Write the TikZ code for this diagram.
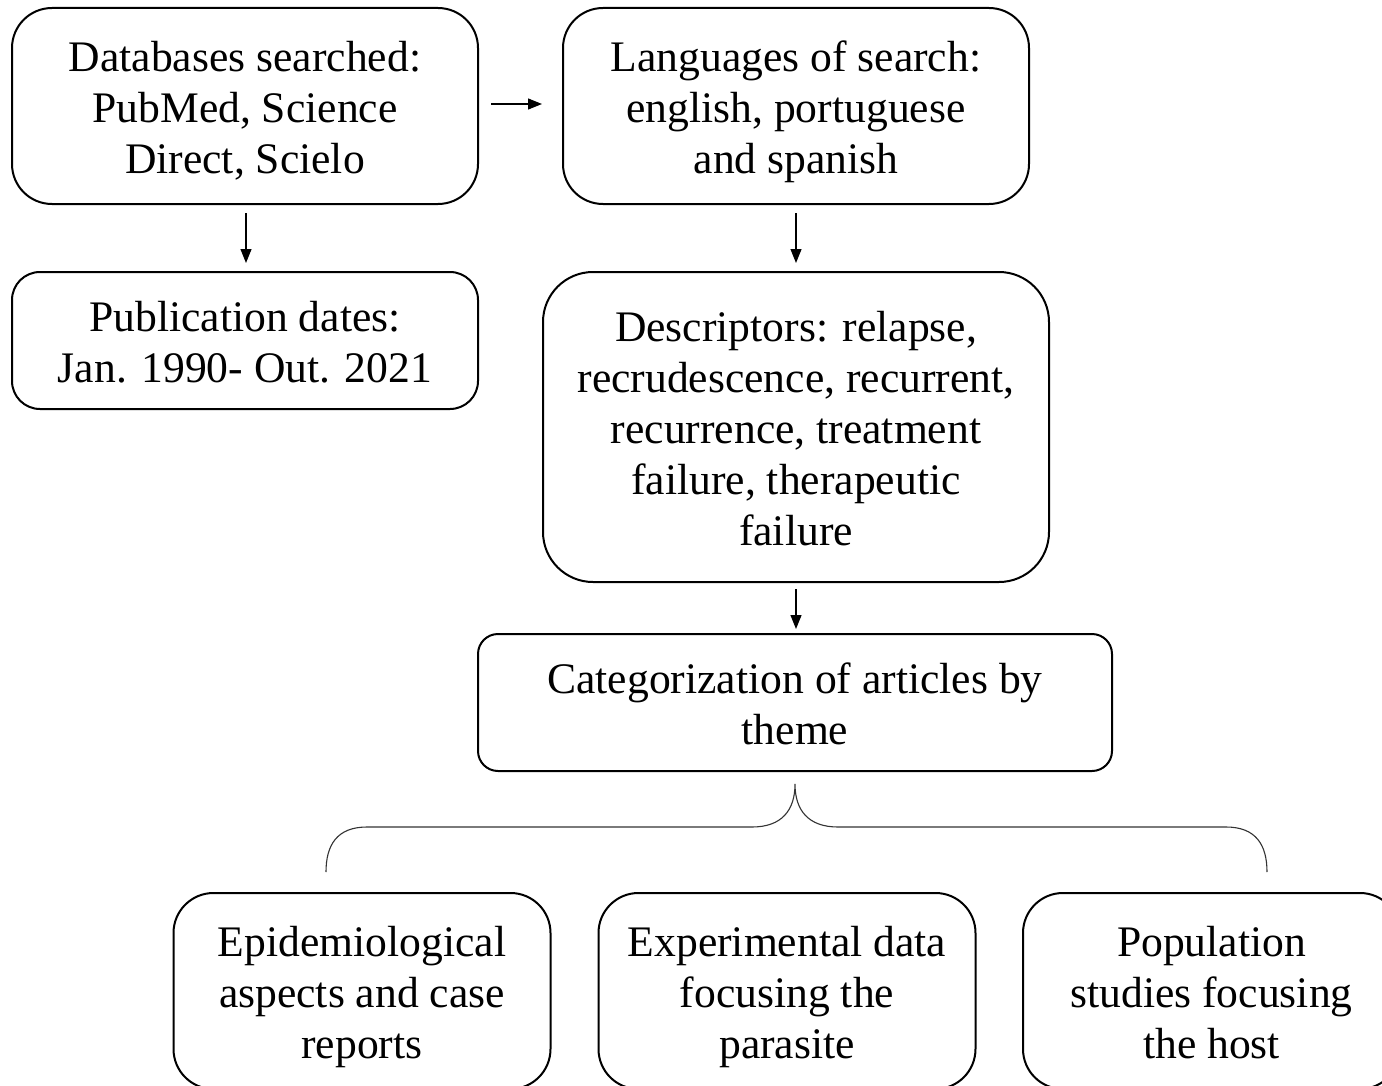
\documentclass[tikz,border=0pt]{standalone}
\usepackage{fontspec}
\setmainfont{Liberation Serif}
\usetikzlibrary{arrows.meta}
\tikzset{
  box/.style={draw=black, line width=1pt, inner sep=0pt},
  txt/.style={align=center, inner sep=0pt,
    font=\fontsize{21.8pt}{25.5pt}\selectfont,
    execute at begin node={\rule{0pt}{21.5pt}},
    execute at end node={\rule[-7.65pt]{0pt}{1pt}}},
  arr/.style={line width=0.6pt, -{Triangle[length=7pt,width=5.5pt]}},
  brace/.style={line width=0.55pt, draw=black!80}
}
\begin{document}
\begin{tikzpicture}[x=0.5pt,y=-0.5pt]
\clip (0,0) rectangle (1382,1086);
\fill[white] (0,0) rectangle (1382,1086);
\node[box, minimum width=233pt, minimum height=98pt, rounded corners=20pt] (db) at (245,106) {};
\node[txt] (dbt) at ([yshift=-4.5pt]db.center) {Databases searched:\\PubMed, Science\\Direct, Scielo};
\node[box, minimum width=233pt, minimum height=98pt, rounded corners=20pt] (lang) at (796,106) {};
\node[txt] (langt) at ([yshift=-4.5pt]lang.center) {Languages of search:\\english, portuguese\\and spanish};
\node[box, minimum width=233pt, minimum height=68.5pt, rounded corners=14pt] (pub) at (245,340.5) {};
\node[txt] (pubt) at ([yshift=-4.5pt]pub.center) {Publication dates:\\Jan. 1990- Out. 2021};
\node[box, minimum width=253pt, minimum height=155pt, rounded corners=25pt] (desc) at (796,427) {};
\node[txt] (desct) at ([yshift=-4.5pt]desc.center) {Descriptors: relapse,\\recrudescence, recurrent,\\recurrence, treatment\\failure, therapeutic\\failure};
\node[box, minimum width=317pt, minimum height=68.5pt, rounded corners=10pt] (cat) at (795,702.5) {};
\node[txt] (catt) at ([yshift=-4.5pt]cat.center) {Categorization of articles by\\theme};
\node[box, minimum width=188.5pt, minimum height=98pt, rounded corners=20pt] (epi) at (362,991) {};
\node[txt] (epit) at ([yshift=-4.5pt]epi.center) {Epidemiological\\aspects and case\\reports};
\node[box, minimum width=188.5pt, minimum height=98pt, rounded corners=20pt] (exp) at (787,991) {};
\node[txt] (expt) at ([yshift=-4.5pt]exp.center) {Experimental data\\focusing the\\parasite};
\node[box, minimum width=188.5pt, minimum height=98pt, rounded corners=20pt] (popn) at (1211.5,991) {};
\node[txt] (popnt) at ([yshift=-4.5pt]popn.center) {Population\\studies focusing\\the host};
\draw[arr, shorten <=6pt, shorten >=10pt] (db.east |- 0,104) -- (lang.west |- 0,104);
\draw[arr, shorten <=4pt, shorten >=4pt] (db.south -| 246,0) -- (pub.north -| 246,0);
\draw[arr, shorten <=4pt, shorten >=4pt] (lang.south) -- (desc.north);
\draw[arr, shorten <=3pt, shorten >=2pt] (desc.south) -- (desc.south |- cat.north);
\coordinate (bt) at ([yshift=-6pt]cat.south);
\coordinate (bl) at (326,872);
\coordinate (br) at (1267,872);
\draw[brace] (bl) .. controls (326,845) and (337,827) .. (367,827) -- (752,827)
  .. controls (782,827) and (795,810) .. (bt)
  .. controls (795,810) and (808,827) .. (838,827) -- (1226,827)
  .. controls (1256,827) and (1267,845) .. (br);
\end{tikzpicture}
\end{document}
